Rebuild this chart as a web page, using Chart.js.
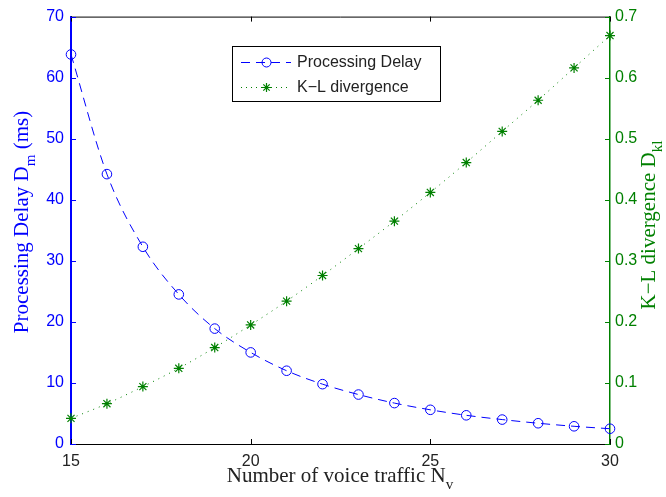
<!DOCTYPE html>
<html><head><meta charset="utf-8">
<script src="https://cdn.jsdelivr.net/npm/chart.js@4/dist/chart.umd.min.js"></script>
<style>html,body{margin:0;padding:0;background:#fff}</style>
</head><body>
<canvas id="c" width="666" height="497"></canvas>
<script>
const voiceTraffic = [15,16,17,18,19,20,21,22,23,24,25,26,27,28,29,30];
const processingDelay = [63.8,44.2,32.3,24.5,18.9,15.0,12.0,9.8,8.1,6.7,5.6,4.7,4.0,3.4,2.9,2.5];
const klDivergence = [0.042,0.066,0.094,0.124,0.158,0.195,0.234,0.276,0.320,0.365,0.412,0.461,0.512,0.563,0.616,0.669];
const xTickValues = [15,20,25,30];
const leftTickStep = 10;
const rightTickStep = 0.1;

const BLUE = '#0000ff';
const GREEN = '#008000';
const SANS = '"Liberation Sans", Arial, sans-serif';
const SERIF = '"Liberation Serif", "Times New Roman", serif';

function drawSubText(ctx, parts, size, color) {
  ctx.fillStyle = color;
  ctx.textBaseline = 'alphabetic';
  ctx.textAlign = 'left';
  let total = 0;
  const widths = parts.map(p => {
    ctx.font = (p.sub ? size * 0.72 : size) + 'px ' + SERIF;
    const w = ctx.measureText(p.t).width;
    total += w;
    return w;
  });
  let x = -total / 2;
  parts.forEach((p, i) => {
    ctx.font = (p.sub ? size * 0.72 : size) + 'px ' + SERIF;
    ctx.fillText(p.t, x, p.sub ? size * 0.32 : 0);
    x += widths[i];
  });
}

const decor = {
  id: 'decor',
  afterDraw(chart) {
    const ctx = chart.ctx;
    const a = chart.chartArea;
    const sx = chart.scales.x, yl = chart.scales.yL, yr = chart.scales.yR;
    ctx.save();
    ctx.strokeStyle = '#000';
    ctx.lineWidth = 1;
    ctx.beginPath();
    ctx.moveTo(a.left, a.top + 0.5); ctx.lineTo(a.right, a.top + 0.5);
    ctx.stroke();
    sx.ticks.forEach(t => {
      const px = Math.round(sx.getPixelForValue(t.value)) + 0.5;
      ctx.beginPath();
      ctx.moveTo(px, a.bottom); ctx.lineTo(px, a.bottom - 5);
      ctx.moveTo(px, a.top); ctx.lineTo(px, a.top + 5);
      ctx.stroke();
    });
    ctx.strokeStyle = BLUE;
    yl.ticks.forEach(t => {
      const py = Math.round(yl.getPixelForValue(t.value)) + 0.5;
      ctx.beginPath(); ctx.moveTo(a.left, py); ctx.lineTo(a.left + 5, py); ctx.stroke();
    });
    ctx.strokeStyle = GREEN;
    yr.ticks.forEach(t => {
      const py = Math.round(yr.getPixelForValue(t.value)) + 0.5;
      ctx.beginPath(); ctx.moveTo(a.right, py); ctx.lineTo(a.right - 5, py); ctx.stroke();
    });

    ctx.save();
    ctx.translate(28, 222);
    ctx.rotate(-Math.PI / 2);
    drawSubText(ctx, [{t:'Processing Delay D'},{t:'m',sub:true},{t:' (ms)'}], 21, BLUE);
    ctx.restore();

    ctx.save();
    ctx.translate(655, 225);
    ctx.rotate(-Math.PI / 2);
    drawSubText(ctx, [{t:'K\u2212L divergence D'},{t:'kl',sub:true}], 21, GREEN);
    ctx.restore();

    ctx.save();
    ctx.translate(340, 482);
    drawSubText(ctx, [{t:'Number of voice traffic N'},{t:'v',sub:true}], 21, '#222');
    ctx.restore();

    const lx = 232, ly = 46, lw = 208, lh = 55;
    ctx.fillStyle = '#fff';
    ctx.fillRect(lx, ly, lw, lh);
    ctx.strokeStyle = '#000';
    ctx.lineWidth = 1;
    ctx.strokeRect(lx + 0.5, ly + 0.5, lw, lh);
    let cy = 62.5;
    ctx.strokeStyle = BLUE;
    ctx.setLineDash([9, 6]);
    ctx.beginPath(); ctx.moveTo(241, cy); ctx.lineTo(291, cy); ctx.stroke();
    ctx.setLineDash([]);
    ctx.beginPath(); ctx.arc(266.5, cy, 4.5, 0, Math.PI * 2); ctx.stroke();
    ctx.fillStyle = '#222';
    ctx.font = '16px ' + SANS;
    ctx.textBaseline = 'middle';
    ctx.textAlign = 'left';
    ctx.fillText('Processing Delay', 297, cy);
    cy = 87.5;
    ctx.strokeStyle = GREEN;
    ctx.setLineDash([1, 4]);
    ctx.beginPath(); ctx.moveTo(241, cy); ctx.lineTo(291, cy); ctx.stroke();
    ctx.setLineDash([]);
    ctx.lineWidth = 1.2;
    ctx.beginPath();
    for (let k = 0; k < 4; k++) {
      const ang = k * Math.PI / 4;
      ctx.moveTo(266.5 - 4.5 * Math.cos(ang), cy - 4.5 * Math.sin(ang));
      ctx.lineTo(266.5 + 4.5 * Math.cos(ang), cy + 4.5 * Math.sin(ang));
    }
    ctx.stroke();
    ctx.fillText('K\u2212L divergence', 297, cy);
    ctx.restore();
  }
};

new Chart(document.getElementById('c'), {
  type: 'line',
  data: {
    datasets: [
      {
        label: 'Processing Delay',
        data: voiceTraffic.map((x, i) => ({x, y: processingDelay[i]})),
        yAxisID: 'yL',
        borderColor: BLUE,
        borderWidth: 1,
        borderDash: [9, 6],
        cubicInterpolationMode: 'monotone',
        pointStyle: 'circle',
        pointRadius: 4.8,
        pointBorderColor: BLUE,
        pointBackgroundColor: 'rgba(0,0,0,0)',
        pointBorderWidth: 1,
        fill: false
      },
      {
        label: 'K\u2212L divergence',
        data: voiceTraffic.map((x, i) => ({x, y: klDivergence[i]})),
        yAxisID: 'yR',
        borderColor: GREEN,
        borderWidth: 1,
        borderDash: [1, 5],
        cubicInterpolationMode: 'monotone',
        pointStyle: 'star',
        pointRadius: 5,
        pointBorderColor: GREEN,
        pointBackgroundColor: GREEN,
        pointBorderWidth: 1.2,
        fill: false
      }
    ]
  },
  options: {
    responsive: false,
    devicePixelRatio: 1,
    animation: false,
    clip: false,
    layout: { padding: { top: 9, left: 0, right: 0, bottom: 0 } },
    plugins: { legend: { display: false }, tooltip: { enabled: false } },
    scales: {
      x: {
        type: 'linear', position: 'bottom', min: 15, max: 30,
        afterBuildTicks: s => { s.ticks = xTickValues.map(v => ({value: v})); },
        ticks: { color: '#222', font: { family: SANS, size: 16 }, padding: 8, maxRotation: 0 },
        grid: { drawOnChartArea: false, drawTicks: false },
        border: { color: '#000', width: 1 },
        afterFit: s => { s.height = 53; }
      },
      yL: {
        type: 'linear', position: 'left', min: 0, max: 70,
        ticks: { stepSize: leftTickStep, color: BLUE, font: { family: SANS, size: 16 }, padding: 7 },
        grid: { drawOnChartArea: false, drawTicks: false },
        border: { color: BLUE, width: 2 },
        afterFit: s => { s.width = 71; }
      },
      yR: {
        type: 'linear', position: 'right', min: 0, max: 0.7,
        ticks: { stepSize: rightTickStep, color: GREEN, font: { family: SANS, size: 16 }, padding: 5,
                 callback: v => String(+v.toFixed(1)) },
        grid: { drawOnChartArea: false, drawTicks: false },
        border: { color: GREEN, width: 1.5 },
        afterFit: s => { s.width = 56; }
      }
    }
  },
  plugins: [decor]
});
</script>
</body></html>
